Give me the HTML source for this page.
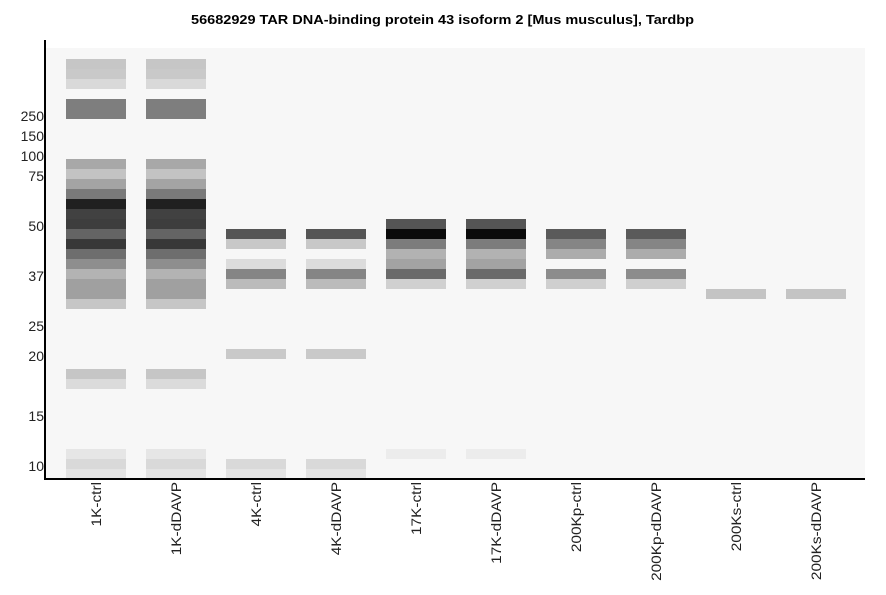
<!DOCTYPE html>
<html><head><meta charset="utf-8"><style>
html,body{margin:0;padding:0;background:#fff;}
svg{display:block;font-family:"Liberation Sans",sans-serif;}
</style></head><body>
<svg id="s" width="886" height="595" xmlns="http://www.w3.org/2000/svg">
<rect x="0" y="0" width="886" height="595" fill="#fff"/>
<rect x="46" y="48" width="819" height="431" fill="#f7f7f7"/>
<text x="191" y="24" font-size="12.5" font-weight="bold" textLength="503" lengthAdjust="spacingAndGlyphs">56682929 TAR DNA-binding protein 43 isoform 2 [Mus musculus], Tardbp</text>
<g id="bands"></g>
<line x1="45" y1="40" x2="45" y2="480" stroke="#000" stroke-width="2"/>
<line x1="44" y1="479" x2="865" y2="479" stroke="#000" stroke-width="2"/>
<g font-size="14" fill="#222" text-anchor="end">
<text x="44" y="121">250</text><text x="44" y="141">150</text><text x="44" y="161">100</text>
<text x="44" y="181">75</text><text x="44" y="231">50</text><text x="44" y="281">37</text>
<text x="44" y="331">25</text><text x="44" y="361">20</text><text x="44" y="421">15</text>
<text x="44" y="471">10</text>
</g>
<g id="xl" font-size="14" fill="#222" text-anchor="end"></g>
</svg>
<script>
var L=[
{59:'c6',69:'c9',79:'d9',99:'7e',109:'7e',159:'a8',169:'c3',179:'a4',189:'7a',199:'20',209:'41',219:'3d',229:'64',239:'38',249:'6e',259:'8e',269:'b3',279:'a0',289:'a0',299:'c6',369:'c6',379:'db',449:'e6',459:'d9',469:'e3'},
null,
{229:'55',239:'c8',259:'dc',269:'85',279:'bb',349:'c9',459:'d9',469:'e3'},
null,
{219:'55',229:'0a',239:'7c',249:'b2',259:'a3',269:'6a',279:'d0',449:'ec'},
null,
{229:'5a',239:'85',249:'ac',269:'8c',279:'cf'},
null,
{289:'c4'},
null];
L[1]=L[0];L[3]=L[2];L[5]=L[4];L[7]=L[6];L[9]=L[8];
var names=['1K-ctrl','1K-dDAVP','4K-ctrl','4K-dDAVP','17K-ctrl','17K-dDAVP','200Kp-ctrl','200Kp-dDAVP','200Ks-ctrl','200Ks-dDAVP'];
var g=document.getElementById('bands'),xl=document.getElementById('xl'),h='',t='';
for(var i=0;i<10;i++){var x=66+80*i;
for(var k in L[i]){var c=L[i][k];h+='<rect x="'+x+'" y="'+k+'" width="60" height="10" fill="#'+c+c+c+'"/>';}
var cx=x+35;t+='<text transform="translate('+cx+',482) rotate(-90) scale(1.1,1)">'+names[i]+'</text>';}
g.innerHTML=h;xl.innerHTML=t;
</script>
</body></html>
